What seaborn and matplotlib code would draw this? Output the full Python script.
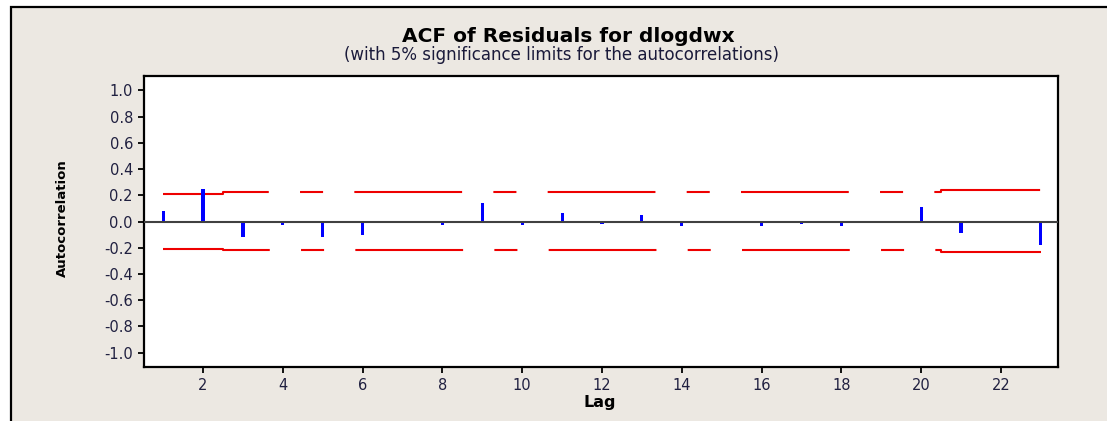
import matplotlib
matplotlib.use("Agg")
import matplotlib.pyplot as plt
from matplotlib.patches import Rectangle
import seaborn as sns
import pandas as pd

# ---- data ----
lags = list(range(1, 24))
acf_values = [0.078, 0.247, -0.120, -0.028, -0.120, -0.100, 0.000, -0.025,
              0.140, -0.025, 0.064, -0.018, 0.048, -0.038, -0.005, -0.038,
              -0.018, -0.038, -0.005, 0.109, -0.089, 0.000, -0.180]
upper_limit = [0.211, 0.212] + [0.225] * 18 + [0.238, 0.238, 0.238]
lower_limit = [-0.206, -0.207] + [-0.219] * 18 + [-0.232, -0.232, -0.232]
x_ticks = list(range(2, 23, 2))
y_ticks = [-1.0, -0.8, -0.6, -0.4, -0.2, 0.0, 0.2, 0.4, 0.6, 0.8, 1.0]
title = "ACF of Residuals for dlogdwx"
subtitle = "(with 5% significance limits for the autocorrelations)"
x_label = "Lag"
y_label = "Autocorrelation"

sns.set_style("ticks")
plt.rcParams["font.family"] = ["DejaVu Sans"]
plt.rcParams["axes.unicode_minus"] = False
plt.rcParams["lines.scale_dashes"] = False

BEIGE = "#ECE8E2"
fig = plt.figure(figsize=(11.07, 4.21), dpi=100, facecolor="white")
fig.patches.append(Rectangle((11 / 1107, -0.2), 1.5, 1.2 - 7 / 421,
                             transform=fig.transFigure, facecolor=BEIGE,
                             edgecolor="black", linewidth=1.6, zorder=-10))

ax = fig.add_axes([144 / 1107, 1 - 367 / 421, (1058 - 144) / 1107, (367 - 76) / 421])
ax.set_facecolor("white")

acf_df = pd.DataFrame({"Lag": lags, "ACF": acf_values})
lim_df = pd.DataFrame({"Lag": lags, "upper": upper_limit, "lower": lower_limit})

sns.barplot(data=acf_df, x="Lag", y="ACF", native_scale=True, width=0.08,
            color="#0000FF", saturation=1, errorbar=None, linewidth=0, ax=ax,
            zorder=3)

dash = (0, (77.6, 22.5, 16.6, 22.5))
for col in ["upper", "lower"]:
    sns.lineplot(data=lim_df, x="Lag", y=col, color="#EE0000", linewidth=1.5,
                 linestyle=dash, drawstyle="steps-mid", ax=ax, zorder=2)

ax.axhline(0, color="#404040", linewidth=1.5, zorder=4)

ax.set_xlim(0.52, 23.43)
ax.set_ylim(-1.11, 1.11)
ax.set_xticks(x_ticks)
ax.set_xticklabels([str(t) for t in x_ticks])
ax.set_yticks(y_ticks)
ax.set_yticklabels([f"{v:.1f}" for v in y_ticks])
ax.set_xlabel("")
ax.set_ylabel("")

for s in ax.spines.values():
    s.set_visible(True)
    s.set_color("black")
    s.set_linewidth(1.6)

ax.tick_params(axis="both", direction="out", length=4, width=1.3, color="black",
               labelsize=10.5, labelcolor="#202040", pad=4)

fig.text(0.513, 1 - 37 / 421, title, ha="center", va="center",
         fontsize=14.5, fontweight="bold", color="black")
fig.text(0.507, 1 - 55 / 421, subtitle, ha="center", va="center",
         fontsize=12, color="#1a1a3a")
fig.text(600 / 1107, 1 - 403 / 421, x_label, ha="center", va="center",
         fontsize=11.5, fontweight="bold", color="black")
fig.text(62 / 1107, 1 - 218 / 421, y_label, ha="center", va="center",
         rotation=90, fontsize=9.5, fontweight="bold", color="black")

fig.savefig("out.png", dpi=100, facecolor=fig.get_facecolor())
